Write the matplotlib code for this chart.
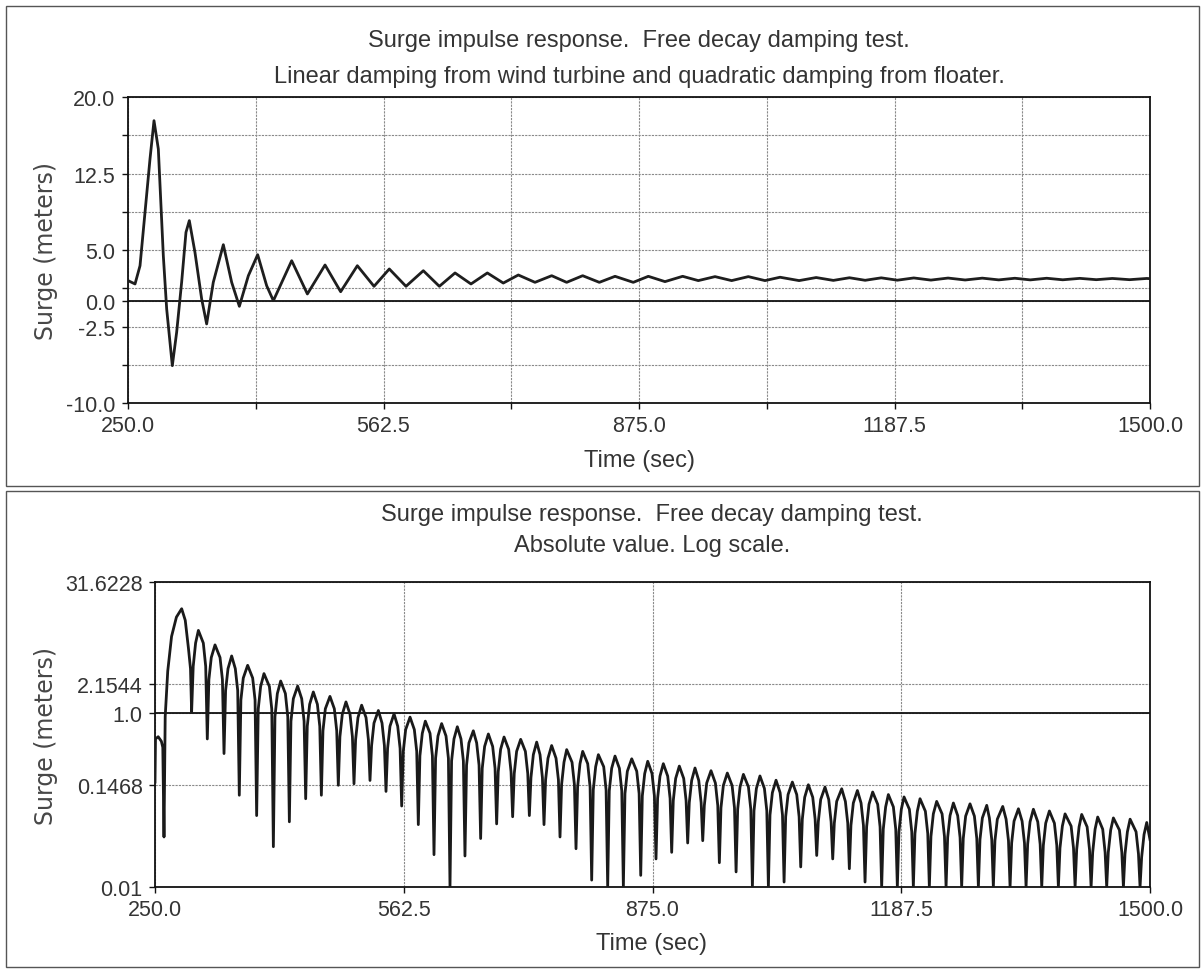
import matplotlib
matplotlib.use('Agg')
import matplotlib.pyplot as plt
from matplotlib.patches import Rectangle
from matplotlib.ticker import FixedLocator, NullLocator

# ---- top panel: surge time series (turning points) ----
surge_t = [250, 258.6, 264.7, 270.8, 276.9, 281.8, 287.1, 293.2, 297.3, 304.2,
           309.5, 315.6, 320.9, 325, 331.9, 340.1, 346.2, 354.3, 366.6, 376.8,
           386.2, 397.2, 408.6, 419.6, 427.8, 450.2, 469.4, 491, 510.1, 530.5,
           550.9, 569.6, 590, 611.2, 630.8, 650, 669.5, 689.5, 709, 727.4,
           747.8, 768.2, 786.5, 806.1, 826.5, 845.7, 868, 886.4, 906.8, 928.4,
           947.5, 968, 988.3, 1008.7, 1029.1, 1047.5, 1070.8, 1091.7, 1112.7, 1132.4,
           1151.6, 1171.3, 1191, 1211.1, 1232, 1253, 1273.9, 1294.9, 1315, 1334.7,
           1353.5, 1373.6, 1393.3, 1414.2, 1434.3, 1454, 1475, 1495.9, 1500]
surge_v = [2.0, 1.67, 3.46, 8.69, 13.92, 17.68, 14.9, 4.44, -0.78, -6.34,
           -3.07, 1.83, 6.73, 7.88, 4.77, 0.2, -2.25, 1.83, 5.52, 1.83,
           -0.52, 2.48, 4.54, 1.5, 0.03, 3.95, 0.69, 3.53, 0.91, 3.46,
           1.44, 3.14, 1.44, 2.97, 1.44, 2.75, 1.67, 2.75, 1.76, 2.55,
           1.83, 2.48, 1.83, 2.48, 1.83, 2.42, 1.83, 2.42, 1.9, 2.42,
           2.0, 2.39, 2.0, 2.39, 2.0, 2.33, 2.0, 2.3, 2.02, 2.28,
           2.03, 2.27, 2.04, 2.26, 2.05, 2.25, 2.06, 2.24, 2.07, 2.23,
           2.07, 2.23, 2.08, 2.22, 2.09, 2.21, 2.09, 2.21, 2.19]

# ---- bottom panel: |surge| on log scale ----
# first (irregular) stretch up to the first big arch, read point by point
lead_t = [250, 250.6, 254, 258, 259.8, 261.3, 262.8, 266, 270.8, 276.9,
          283.5, 288, 292, 294.6]
lead_v = [0.16, 0.5, 0.53, 0.47, 0.4, 0.0375, 0.9, 3.0, 7.5, 12.5,
          15.6, 11.5, 5.5, 3.2]

# one arch per half cycle: dip before the arch, arch top,
# level a quarter way along the arch, level where the side drops into the dip
dip_t = [296, 315.7, 336.7, 355.9, 377.7, 398.7, 418.8, 439.3, 459, 480.3,
         500, 520.1, 540.2, 559.9, 580.8, 600.5, 620.6, 639.4, 659.1, 679.2,
         699.3, 720.3, 738.7, 758.8, 778.9, 798.6, 818.7, 838.4, 860.2, 879.4,
         899.1, 919.2, 938.1, 959, 980, 1000.5, 1020.6, 1040.3, 1061.2, 1081.3,
         1101.4, 1122.3, 1142, 1162.9, 1182.6, 1202.7, 1222.8, 1243.8, 1263.4, 1284.4,
         1303.2, 1324.2, 1344.3, 1364, 1384.9, 1405.9, 1426, 1445.6, 1466.6, 1487.5]
dip_v = [1.02, 0.5, 0.34, 0.113, 0.066, 0.029, 0.056, 0.103, 0.113, 0.147,
         0.153, 0.167, 0.125, 0.085, 0.052, 0.0235, 0.01, 0.0227, 0.036, 0.053,
         0.064, 0.066, 0.052, 0.0375, 0.0275, 0.012, 0.01, 0.01, 0.0136, 0.021,
         0.025, 0.032, 0.034, 0.019, 0.0149, 0.01, 0.01, 0.0114, 0.017, 0.023,
         0.021, 0.0162, 0.0114, 0.01, 0.01, 0.01, 0.01, 0.01, 0.01, 0.01,
         0.01, 0.01, 0.01, 0.01, 0.01, 0.01, 0.01, 0.01, 0.01, 0.01]
peak_t = [304.5, 325.4, 346.3, 366.4, 386.9, 407.9, 429.2, 448.9, 469.8, 489.9,
          509.6, 530.6, 550.3, 570.4, 589.6, 610.1, 629.8, 649.9, 668.8, 688.5,
          709.4, 729.5, 748.3, 767.2, 787.3, 807, 827.9, 848.9, 869, 888.6,
          908.7, 928.4, 948.5, 969, 989.2, 1010, 1030.2, 1050.7, 1070.8, 1091.7,
          1112.7, 1132.4, 1151.6, 1171.3, 1191, 1211.1, 1232, 1253, 1273.9, 1294.9,
          1315, 1334.7, 1353.5, 1373.6, 1393.3, 1414.2, 1434.3, 1454, 1475, 1495.9]
peak_v = [8.8, 6.0, 4.48, 3.5, 2.81, 2.31, 2.02, 1.73, 1.54, 1.33,
          1.22, 1.06, 0.97, 0.89, 0.80, 0.75, 0.69, 0.62, 0.57, 0.526,
          0.495, 0.46, 0.42, 0.377, 0.36, 0.33, 0.318, 0.296, 0.277, 0.26,
          0.244, 0.232, 0.216, 0.203, 0.196, 0.188, 0.168, 0.16, 0.149, 0.14,
          0.134, 0.128, 0.123, 0.115, 0.108, 0.103, 0.096, 0.092, 0.090, 0.0865,
          0.084, 0.079, 0.078, 0.0745, 0.069, 0.068, 0.0635, 0.062, 0.060, 0.055]
upper_v = [6.3, 4.3, 3.2, 2.5, 2.0, 1.66, 1.45, 1.25, 1.11, 0.96,
           0.88, 0.76, 0.70, 0.64, 0.58, 0.54, 0.50, 0.45, 0.41, 0.38,
           0.36, 0.33, 0.30, 0.27, 0.26, 0.24, 0.23, 0.213, 0.20, 0.187,
           0.176, 0.167, 0.156, 0.146, 0.141, 0.135, 0.121, 0.115, 0.107, 0.101,
           0.096, 0.092, 0.089, 0.083, 0.078, 0.074, 0.069, 0.066, 0.065, 0.062,
           0.060, 0.057, 0.056, 0.054, 0.050, 0.049, 0.046, 0.045, 0.043, 0.040]
side_v = [3.4, 2.4, 1.8, 1.4, 1.1, 0.9, 0.8, 0.7, 0.62, 0.53,
          0.49, 0.42, 0.39, 0.36, 0.32, 0.30, 0.28, 0.25, 0.23, 0.21,
          0.20, 0.18, 0.17, 0.15, 0.14, 0.13, 0.127, 0.118, 0.111, 0.104,
          0.098, 0.093, 0.086, 0.081, 0.078, 0.075, 0.067, 0.064, 0.060, 0.056,
          0.054, 0.051, 0.049, 0.046, 0.043, 0.041, 0.038, 0.037, 0.036, 0.035,
          0.034, 0.032, 0.031, 0.030, 0.028, 0.027, 0.025, 0.025, 0.024, 0.022]
end_t = 1500.0
end_v = 0.035

# axis ticks as printed on the chart
x_major = [250.0, 562.5, 875.0, 1187.5, 1500.0]
x_labels = ['250.0', '562.5', '875.0', '1187.5', '1500.0']
x_minor = [406.25, 718.75, 1031.25, 1343.75]
top_y_major = [-10.0, -2.5, 0.0, 5.0, 12.5, 20.0]
top_y_labels = ['-10.0', '-2.5', '0.0', '5.0', '12.5', '20.0']
top_y_minor = [-6.25, 1.25, 8.75, 16.25]
log_y_major = [0.01, 0.1468, 1.0, 2.1544, 31.6228]
log_y_labels = ['0.01', '0.1468', '1.0', '2.1544', '31.6228']

W, H = 1202, 970
TXT = '#343434'
GRID = '#8a8a8a'
TICK_FONT = ['Liberation Sans Narrow', 'Liberation Sans', 'DejaVu Sans']


def px_box(left, top, right, bottom):
    # pixel box -> figure fraction [x0, y0, w, h]
    return [left / W, 1 - bottom / H, (right - left) / W, (bottom - top) / H]


def build_arches():
    xs = list(lead_t)
    ys = list(lead_v)
    step = 2.0     # one sample either side of the zero crossing
    quarter = 5.0  # a quarter of the half cycle
    n = len(peak_t)
    for i in range(n):
        xs += [dip_t[i], dip_t[i] + step, dip_t[i] + quarter, peak_t[i]]
        ys += [dip_v[i], side_v[i], upper_v[i], peak_v[i]]
        if i + 1 < n:
            xs += [dip_t[i + 1] - quarter, dip_t[i + 1] - step]
            ys += [upper_v[i], side_v[i]]
    xs.append(end_t)
    ys.append(end_v)
    return xs, ys


def style_axes(ax):
    for s in ax.spines.values():
        s.set_linewidth(1.3)
        s.set_color('#111111')
    ax.tick_params(which='both', direction='out', length=4, width=1.0,
                   color='#111111', labelcolor=TXT, pad=5)
    ax.set_xlim(250, 1500)
    ax.xaxis.set_major_locator(FixedLocator(x_major))
    ax.set_xticklabels(x_labels)
    for lab in ax.get_xticklabels() + ax.get_yticklabels():
        lab.set_fontfamily(TICK_FONT)
        lab.set_fontsize(15.5)


def main():
    plt.rcParams['font.family'] = ['Liberation Sans', 'DejaVu Sans']
    fig = plt.figure(figsize=(W / 100, H / 100), dpi=100)
    fig.patch.set_facecolor('white')

    # panel frames
    for (l, t, r, b) in [(6, 7, 1199, 487), (6, 492, 1199, 968)]:
        x0, y0, w, h = px_box(l, t, r, b)
        fig.add_artist(Rectangle((x0, y0), w, h, transform=fig.transFigure,
                                 fill=False, edgecolor='#555555', lw=1.0))

    # ---------- top ----------
    ax1 = fig.add_axes(px_box(128, 98, 1150, 404))
    ax1.set_ylim(-10, 20)
    ax1.yaxis.set_major_locator(FixedLocator(top_y_major))
    ax1.set_yticklabels(top_y_labels)
    ax1.yaxis.set_minor_locator(FixedLocator(top_y_minor))
    ax1.xaxis.set_minor_locator(FixedLocator(x_minor))
    style_axes(ax1)
    ax1.grid(True, which='both', color=GRID, lw=0.8, ls=(0, (2, 1)))
    ax1.axhline(0.0, color='#111111', lw=1.3, zorder=2)
    ax1.plot(surge_t, surge_v, color='#1e1e1e', lw=2.0, zorder=3)

    # ---------- bottom ----------
    ax2 = fig.add_axes(px_box(155, 583, 1150, 888))
    ax2.set_yscale('log')
    ax2.set_ylim(0.01, 31.6228)
    ax2.yaxis.set_major_locator(FixedLocator(log_y_major))
    ax2.yaxis.set_minor_locator(NullLocator())
    ax2.set_yticklabels(log_y_labels)
    ax2.xaxis.set_minor_locator(NullLocator())
    style_axes(ax2)
    ax2.grid(True, which='major', color=GRID, lw=0.8, ls=(0, (2, 1)))
    ax2.axhline(1.0, color='#111111', lw=1.3, zorder=2)
    bx, by = build_arches()
    ax2.plot(bx, by, color='#1a1a1a', lw=2.0, zorder=3)

    # ---------- texts ----------
    tkw = dict(ha='center', va='baseline', fontsize=17, color=TXT)
    fig.text(639 / W, 1 - 47 / H, 'Surge impulse response.  Free decay damping test.', **tkw)
    fig.text(639 / W, 1 - 83 / H,
             'Linear damping from wind turbine and quadratic damping from floater.', **tkw)
    fig.text(639 / W, 1 - 467 / H, 'Time (sec)', **tkw)

    fig.text(652 / W, 1 - 521 / H, 'Surge impulse response.  Free decay damping test.', **tkw)
    fig.text(652 / W, 1 - 552 / H, 'Absolute value. Log scale.', **tkw)
    fig.text(652 / W, 1 - 950 / H, 'Time (sec)', **tkw)

    ykw = dict(ha='center', va='center', rotation=90, fontsize=17,
               color='#474747', family=['DejaVu Sans'])
    fig.text(46 / W, 1 - 251 / H, 'Surge (meters)', **ykw)
    fig.text(46 / W, 1 - 736 / H, 'Surge (meters)', **ykw)

    fig.savefig('out.png', dpi=100, facecolor='white')


if __name__ == "__main__":
    main()
